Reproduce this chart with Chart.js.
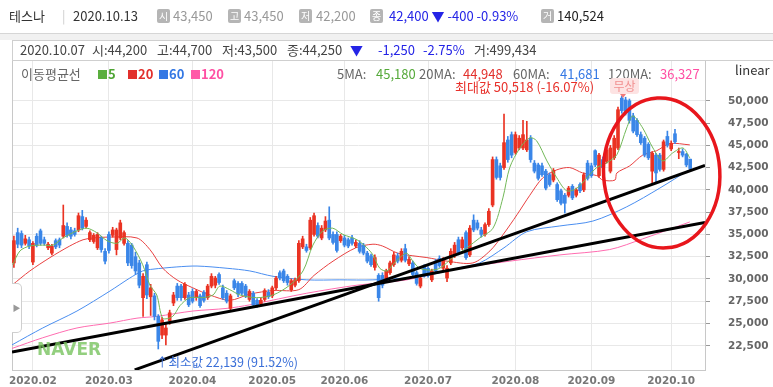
<!DOCTYPE html>
<html><head><meta charset="utf-8">
<script src="https://cdn.jsdelivr.net/npm/chart.js@4.4.1/dist/chart.umd.min.js"></script>
<style>
body{margin:0;background:#fff;font-family:"Noto Sans CJK KR","Noto Sans",sans-serif;}
#wrap{position:relative;width:773px;height:387px;overflow:hidden;background:#fff;}
#c{position:absolute;left:0;top:0;}
.t{position:absolute;white-space:nowrap;font-size:13px;line-height:16px;color:#444;}
.bx{position:absolute;top:9px;width:13px;height:14px;background:#b5b5b5;color:#fff;font-size:10px;line-height:14px;text-align:center;border-radius:2px;}
.sq{display:inline-block;width:9px;height:9px;margin-right:1px;vertical-align:-0px;}
#hdr{position:absolute;left:0;top:0;width:773px;height:33px;border-bottom:1px solid #d6d6d6;}
#band{position:absolute;left:0;top:34px;width:773px;height:6px;background:#f1f1f1;}
#info{position:absolute;left:12px;top:40px;width:770px;height:19px;border:1px solid #cfcfcf;border-right:none;background:#fff;}
#handle{position:absolute;left:12px;top:283px;width:9px;height:48px;border:1px solid #cfcfcf;border-left:none;border-radius:0 5px 5px 0;background:#fff;color:#999;font-size:8px;line-height:48px;text-align:center;}
#badge{position:absolute;left:610px;top:78px;width:29px;height:16px;background:#fde3e3;color:#f19090;font-size:12px;line-height:16px;text-align:center;border-radius:3px;}
#pin{position:absolute;left:620px;top:94px;width:0;height:0;border-left:3px solid transparent;border-right:3px solid transparent;border-top:4px solid #f07a7a;}
#naver{position:absolute;left:37px;top:339px;font-family:"DejaVu Sans",sans-serif;font-weight:bold;font-size:17px;line-height:20px;color:rgba(120,195,95,0.8);}
</style></head>
<body>
<div id="wrap">
<canvas id="c" width="773" height="387"></canvas>
<div id="hdr"></div>
<div id="band"></div>
<div id="info"></div>

<span class="t" style="left:9px;top:8px;color:#333">테스나</span>
<span class="t" style="left:62px;top:8px;color:#ccc">|</span>
<span class="t" style="left:73px;top:8px;color:#333">2020.10.13</span>
<span class="bx" style="left:157px">시</span><span class="t" style="left:173px;top:8px;color:#999">43,450</span>
<span class="bx" style="left:228px">고</span><span class="t" style="left:244px;top:8px;color:#999">43,450</span>
<span class="bx" style="left:299px">저</span><span class="t" style="left:316px;top:8px;color:#999">42,200</span>
<span class="bx" style="left:370px">종</span><span class="t" style="left:389px;top:8px;color:#2424e6">42,400 ▼ -400 -0.93%</span>
<span class="bx" style="left:541px">거</span><span class="t" style="left:557px;top:8px;color:#222">140,524</span>

<span class="t" style="left:20px;top:42px">2020.10.07</span>
<span class="t" style="left:92px;top:42px">시:44,200</span>
<span class="t" style="left:157px;top:42px">고:44,700</span>
<span class="t" style="left:222px;top:42px">저:43,500</span>
<span class="t" style="left:287px;top:42px">종:44,250</span>
<span class="t" style="left:350px;top:42px;color:#2424e6">▼</span>
<span class="t" style="left:378px;top:42px;color:#2424e6">-1,250</span>
<span class="t" style="left:423px;top:42px;color:#2424e6">-2.75%</span>
<span class="t" style="left:474px;top:42px">거:499,434</span>

<span class="t" style="left:21px;top:66px;color:#666">이동평균선</span>
<span class="t" style="left:98px;top:66px;color:#4fa534;font-weight:bold"><span class="sq" style="background:#5aae3e"></span>5</span>
<span class="t" style="left:128px;top:66px;color:#e2302c;font-weight:bold"><span class="sq" style="background:#e2302c"></span>20</span>
<span class="t" style="left:159px;top:66px;color:#3478e4;font-weight:bold"><span class="sq" style="background:#3478e4"></span>60</span>
<span class="t" style="left:191px;top:66px;color:#ff4fa3;font-weight:bold"><span class="sq" style="background:#ff5aa8"></span>120</span>

<span class="t" style="left:337px;top:66px;color:#666">5MA:</span><span class="t" style="left:376px;top:66px;color:#55a93a">45,180</span>
<span class="t" style="left:419px;top:66px;color:#666">20MA:</span><span class="t" style="left:463px;top:66px;color:#e2302c">44,948</span>
<span class="t" style="left:513px;top:66px;color:#666">60MA:</span><span class="t" style="left:560px;top:66px;color:#3478e4">41,681</span>
<span class="t" style="left:608px;top:66px;color:#666">120MA:</span><span class="t" style="left:660px;top:66px;color:#ff4fa3">36,327</span>
<span class="t" style="left:735px;top:62px;color:#333">linear</span>

<span class="t" style="left:455px;top:79px;color:#e8302a">최대값 50,518 (-16.07%)</span>
<div id="badge">무상</div><div id="pin"></div>
<span class="t" style="left:156px;top:354px;color:#3a6fd8;font-size:12.5px">↑최소값 22,139 (91.52%)</span>
<div id="naver">NAVER</div>
<div id="handle">▶</div>
</div>
<script>
// month starts (trading-day index) and their labels
const monthIdx=[5,25,47,68,87,109,132,152,173];
const monthLabels=["2020.02","2020.03","2020.04","2020.05","2020.06","2020.07","2020.08","2020.09","2020.10"];
const yTicks=[22500,25000,27500,30000,32500,35000,37500,40000,42500,45000,47500,50000];

// daily candles, 2020.01.23 - 2020.10.13
const openP=[31800,35200,35100,34000,34400,31900,34800,35400,34400,33500,32900,34300,34400,34800,35900,35500,35400,35500,37000,35900,
34400,34200,33500,34600,33100,35000,34900,33300,34600,34000,34000,33800,32500,31800,27900,31600,28000,28100,25800,23700,
23700,25300,27300,29200,29200,27900,28200,28600,27900,28100,28500,27900,29200,29300,30500,29000,28400,26700,29800,29500,
29500,29200,27700,28400,27600,27200,27700,28500,28100,29000,30700,30900,30300,28800,29300,29800,33600,33600,33500,35000,
36000,34600,35500,36600,35000,35000,34300,34600,34400,34600,33700,34000,33800,32900,32600,31300,30400,30400,29800,30700,
31600,32600,32100,33400,31700,31800,30700,29200,31400,31200,29900,32000,32300,31200,30100,31800,32600,34400,33500,35200,
32700,36600,36300,35500,35000,36100,38300,43400,42700,42500,45600,46200,44200,44700,44700,44500,45800,43000,42800,42700,
42100,41700,41100,40600,39900,39400,39400,40400,39400,40600,40000,43000,42700,44400,41600,43400,43200,42100,43600,44700,
50300,50100,50000,48300,47800,46200,45800,45100,42100,43900,43900,42300,46000,44600,46300,44200,44300,44000,43450];
const highP=[34800,35700,35400,34900,34700,34200,35100,35600,34700,34100,33900,34500,34600,38300,36300,35800,35700,37400,37700,36900,
35400,35100,35200,34800,33400,35300,35800,35700,36600,35400,34300,34000,33000,32100,30600,31900,29400,28400,26000,25700,
24900,26500,28500,29500,29400,29600,28500,28900,28800,28300,28700,29400,30600,30300,30700,29300,28700,28300,30000,29700,
29700,29400,28800,28600,27800,27900,28900,28800,29200,30300,30900,31100,30500,30000,30100,34300,34800,33900,36900,37400,
36300,36000,37000,38100,35300,35300,35000,34900,34600,34900,34400,34300,34000,33100,32800,32700,30600,30700,31100,32000,
33000,32900,33400,33900,32500,32000,30900,30300,31600,31400,31100,32200,32600,32400,31500,33400,34100,34700,34700,35400,
36000,37200,36600,35800,36300,37900,43700,43700,43000,48500,46000,46500,46500,46100,47800,47700,46100,43300,43000,43000,
42300,41900,42400,40800,40100,39600,40400,40600,40200,40800,41900,43300,43000,44500,44100,43700,44800,45000,46100,49300,
50518,50400,50200,48600,48000,46500,46000,45300,44300,44100,44100,45600,46600,45500,46800,44700,44600,44100,43450];
const lowP=[31300,33500,33500,33800,33400,31600,33600,33800,33800,33300,32700,33400,33500,34600,34700,34500,34800,35300,35500,35700,
34200,34000,33300,33000,31700,32900,34700,32700,34400,33800,31500,31200,30500,29000,25800,27800,25900,25400,22139,23300,
22600,24900,27000,27600,27600,27700,26900,27300,27600,26800,27400,27700,29000,29000,29400,27700,27300,26500,28800,28000,
28200,27900,27500,26900,26800,27000,27500,27800,27900,28800,29900,29600,29300,28600,29100,29600,33400,33000,33300,34800,
34600,34400,35300,34400,33900,33000,34100,33600,33500,33800,33500,32900,32700,31800,31400,31000,27500,29000,29600,30500,
31400,31800,31900,31900,31500,30300,29300,29000,30200,30200,29700,30700,31300,31000,29700,31600,32400,32700,33300,32200,
32500,35300,35500,34700,34800,35900,38100,41200,41100,42300,43100,43600,44000,44500,44500,44300,43100,41900,41100,41500,
40000,40400,40900,38700,38300,37400,39200,38900,39200,39700,39800,41100,41400,42600,41400,42300,43000,41900,43400,44500,
48600,48400,47500,46400,46000,45100,43700,43400,40800,40800,42100,42100,44800,44400,45200,43500,43700,42600,42200];
const closeP=[34300,33900,33800,34500,33700,34000,33800,34000,34000,33900,33700,33600,33800,36000,34900,34800,35000,37100,35700,36600,
35200,34900,35000,33300,32000,33200,35500,35500,36300,35200,31800,31500,30900,29300,30300,28200,29000,25800,23000,25400,
24500,26200,28200,27900,27900,29400,27100,27500,28600,27000,27600,29200,30300,30100,29600,27900,27500,28100,29000,28300,
28400,28100,28600,27100,27100,27600,28700,28000,29000,30100,30100,29800,29600,29800,29900,34000,34500,33200,36600,37100,
34800,35700,36500,34600,34100,33200,34800,33800,33700,34000,34100,33100,32900,32000,31600,32400,27900,29300,30900,31800,
32700,32000,33100,32100,32200,30500,29500,30100,30400,30400,30900,30900,31500,32100,31200,33100,33800,32900,34400,32400,
35700,35500,35700,35000,36100,37600,43400,41400,41400,45300,43400,43900,46200,45800,46200,45600,43400,42100,41300,41700,
40200,40600,42200,38900,38500,38500,40200,39100,40000,39900,41700,41300,41600,42800,43900,42500,44500,44700,45800,49000,
48900,48700,47800,46600,46200,45300,43900,43600,44100,41900,42300,45400,45000,45200,45400,44250,43900,42800,42400];

// moving averages: [day index, value]
const ma5Idx=[-0.3,1.6,4.2,7.6,10.3,12.9,16.6,19.2,21.8,24.5,27.1,29.2,31.3,33.9,35.8,37.6,39.2,41.8,43.7,46.3,49.7,52.4,54.2,56.8,59.5,63.9,68.2,72.6,76.1,78.7,81.3,83.9,86.6,90.3,92.9,94.5,96.3,98.2,99.7,101.6,103.4,105,106.8,109.5,112.1,115.5,119.2,122.6,126.1,128.7,130.5,133.2,135.8,137.6,140.3,142.9,145.5,148.2,150.8,153.4,156.1,158.7,161.3,162.9,165.5,168.2,170.8,173.4,176.1,177.9];
const ma5Val=[31600,33150,33700,33800,33800,34600,35400,35700,35200,34300,34000,34600,33700,31600,29300,28200,25600,25800,27000,27900,27900,28200,29200,28800,28200,27900,28200,29300,30900,33800,35400,35700,35000,34400,33500,32700,31200,30900,31600,32400,32900,32000,31200,31000,31200,32400,33500,34600,35700,39100,42500,44700,45850,45500,43250,41350,39900,40200,41350,42500,43050,43950,46950,48300,46950,44700,43250,44150,44700,43600];
const ma20Idx=[-0.5,4.2,9.5,14.7,18.2,20.8,25.3,32.4,35.8,39.2,42.9,47.1,51.6,56.8,62.1,68.2,75,79,84,90,94.5,97,101,105,108.7,114,120.8,125.3,128.7,132.4,135.8,139.2,142.9,146.3,149.7,153.4,155,158.2,158.7,162.1,165.5,169.2,172.6,177.9];
const ma20Val=[29300,30900,32400,33700,34400,34600,34700,34600,33300,31200,29900,29000,28200,27600,28300,28700,28800,30400,32000,33500,33900,33700,32900,32600,32400,32000,31800,33150,34950,37200,39400,41350,42250,42500,41900,41600,41100,41100,41900,42700,43900,44400,45200,45050];
const ma60Idx=[-0.5,7.6,16.6,25.3,30.5,33.9,36.6,42.9,48.2,56.1,62.1,68.2,77.1,85.8,94.5,107.6,116.6,122.6,129,135,143.7,152.4,161.3,170,177.9];
const ma60Val=[22600,24500,26400,28650,30100,30900,31100,31350,31450,31200,30900,30300,29900,29900,29900,30300,31200,31800,33500,35300,35950,36500,38100,40200,42300];
const ma120Idx=[-0.5,7.6,16.6,25.3,32.4,37.6,47.1,56.1,62.1,77.1,90.3,103.4,117.4,130.5,143.7,156.8,165.5,177.9];
const ma120Val=[22200,23400,24500,25050,25600,25800,26400,26700,27100,28400,29300,29900,31200,32000,32700,33300,34500,36400];

// hand-drawn support lines and the circled area (data space)
const trendAIdx=[-0.5,181.9], trendAVal=[21800,36350];
const trendBIdx=[31.8,181.9], trendBVal=[19800,42750];
const ringIdx=170.5, ringVal=41900, ringRIdx=15.3, ringRVal=8420;

const UP="#ea3323", DOWN="#3a86e8";
const candleColor=closeP.map((c,i)=>c>=openP[i]?UP:DOWN);
const pts=(xs,ys)=>xs.map((x,i)=>({x,y:ys[i]}));
const lineDs=(xs,ys,color,w,order)=>({type:"line",data:pts(xs,ys),borderColor:color,borderWidth:w,pointRadius:0,tension:0.3,order});

const framePlugin={id:"frame",beforeDatasetsDraw(ch){
 const a=ch.chartArea,ctx=ch.ctx;
 ctx.save();ctx.strokeStyle="#c8c8c8";ctx.lineWidth=1;
 ctx.beginPath();ctx.moveTo(a.left+0.5,a.top);ctx.lineTo(a.left+0.5,a.bottom);ctx.stroke();ctx.restore();
}};
const ringPlugin={id:"ring",afterDraw(ch){
 const {ctx,scales:{x,y}}=ch;
 const cx=x.getPixelForValue(ringIdx),cy=y.getPixelForValue(ringVal);
 const rx=x.getPixelForValue(ringIdx+ringRIdx)-cx,ry=cy-y.getPixelForValue(ringVal+ringRVal);
 ctx.save();ctx.strokeStyle="#e8161c";ctx.lineWidth=3.5;
 ctx.beginPath();ctx.ellipse(cx,cy,rx,ry,-0.06,0,Math.PI*2);ctx.stroke();ctx.restore();
}};

const axisFont={family:"DejaVu Sans",size:10.5,weight:"bold"};

new Chart(document.getElementById("c"),{
 type:"bar",
 data:{datasets:[
  lineDs(ma120Idx,ma120Val,"#ff6cb0",1,6),
  lineDs(ma60Idx,ma60Val,"#4a8ef0",1,5),
  lineDs(ma20Idx,ma20Val,"#e84040",1,4),
  {data:closeP.map((c,i)=>({x:i,y:[lowP[i],highP[i]]})),backgroundColor:candleColor,barThickness:1,grouped:false,order:3},
  {data:closeP.map((c,i)=>({x:i,y:[openP[i],c]})),backgroundColor:candleColor,barThickness:3,minBarLength:1,grouped:false,order:2},
  lineDs(ma5Idx,ma5Val,"#72b858",1,1),
  {...lineDs(trendAIdx,trendAVal,"#000",3,0),tension:0},
  {...lineDs(trendBIdx,trendBVal,"#000",3,0),tension:0}
 ]},
 options:{
  responsive:false,animation:false,
  layout:{padding:{left:12,top:60,right:0,bottom:0}},
  plugins:{legend:{display:false},tooltip:{enabled:false}},
  scales:{
   x:{type:"linear",min:-0.5,max:181.9,offset:false,
      afterBuildTicks:s=>{s.ticks=monthIdx.map(v=>({value:v}));},
      afterFit:s=>{s.height=17;s.paddingLeft=0;s.paddingRight=0;},
      ticks:{autoSkip:false,maxRotation:0,padding:5,color:"#777",font:axisFont,
             callback:v=>monthLabels[monthIdx.indexOf(v)]},
      grid:{color:"#e8e8e8",drawTicks:false,offset:false},
      border:{color:"#c8c8c8"}},
   y:{position:"right",min:19780,max:54580,
      afterBuildTicks:s=>{s.ticks=yTicks.map(v=>({value:v}));},
      afterFit:s=>{s.width=68;s.paddingTop=0;s.paddingBottom=0;},
      ticks:{padding:18,color:"#666",font:axisFont,callback:v=>v.toLocaleString("en-US")},
      grid:{color:"#e8e8e8",tickLength:5,tickColor:"#999"},
      border:{color:"#c8c8c8"}}
  }
 },
 plugins:[framePlugin,ringPlugin]
});
</script>
</body></html>
